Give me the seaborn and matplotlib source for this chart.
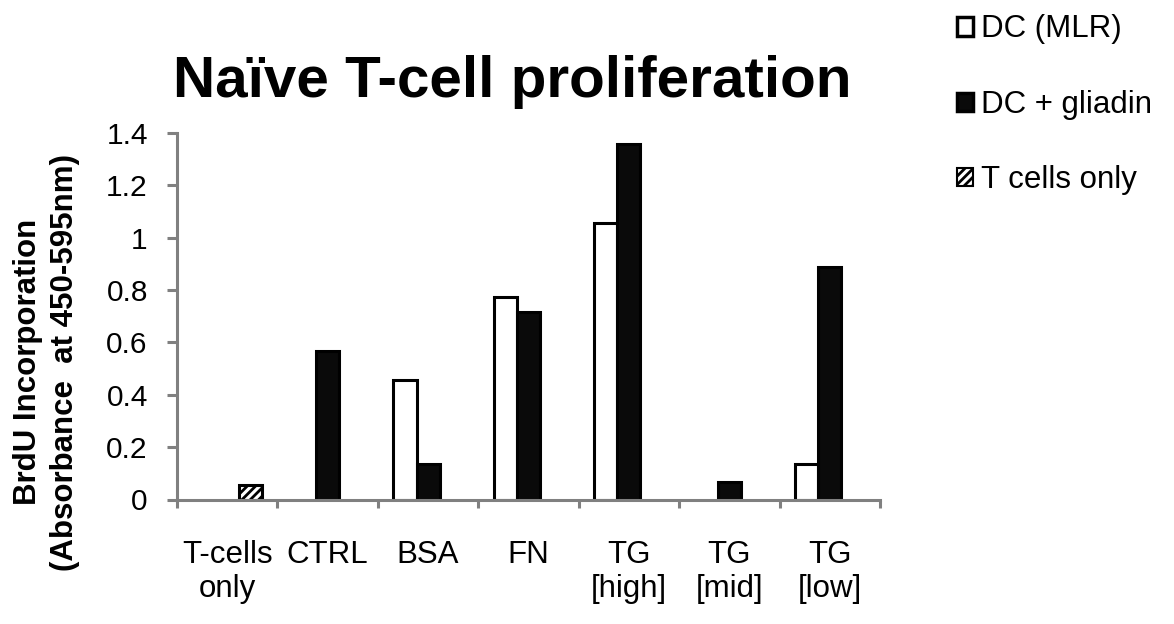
import numpy as np
import pandas as pd
import matplotlib
matplotlib.use("Agg")
import matplotlib.pyplot as plt
from matplotlib.patches import Patch
import seaborn as sns

# values
categories = ["T-cells\nonly", "CTRL", "BSA", "FN", "TG\n[high]", "TG\n[mid]", "TG\n[low]"]
series = ["DC (MLR)", "DC + gliadin", "T cells only"]
dc_mlr = [np.nan, np.nan, 0.455, 0.775, 1.057, np.nan, 0.135]
dc_gliadin = [np.nan, 0.567, 0.135, 0.716, 1.358, 0.068, 0.890]
t_cells_only = [0.055, np.nan, np.nan, np.nan, np.nan, np.nan, np.nan]
yticks = [0, 0.2, 0.4, 0.6, 0.8, 1, 1.2, 1.4]
ytick_labels = ["0", "0.2", "0.4", "0.6", "0.8", "1", "1.2", "1.4"]

df = pd.DataFrame({
    "category": categories * 3,
    "series": [series[0]] * 7 + [series[1]] * 7 + [series[2]] * 7,
    "value": dc_mlr + dc_gliadin + t_cells_only,
})

sns.set_style("white")
plt.rcParams["font.family"] = ["Liberation Sans", "DejaVu Sans"]
plt.rcParams["hatch.linewidth"] = 2.0
for key in ["text.color", "axes.labelcolor", "xtick.labelcolor", "ytick.labelcolor"]:
    plt.rcParams[key] = "black"

grey = "#808080"
fig = plt.figure(figsize=(11.74, 6.24), dpi=100)
ax = fig.add_axes([177 / 1174, 1 - 499.5 / 624, 703 / 1174, 366.5 / 624])

colors = {"DC (MLR)": "white", "DC + gliadin": "#0a0a0a", "T cells only": "white"}
sns.barplot(data=df, x="category", y="value", hue="series", order=categories,
            hue_order=series, palette=colors, errorbar=None, width=0.69, gap=0,
            edgecolor="black", linewidth=2.2, ax=ax, legend=False)

# hatch the "T cells only" bar (right-hand slot of each group)
for p in ax.patches:
    cx = p.get_x() + p.get_width() / 2
    if cx - round(cx) > 0.1:
        p.set_hatch("////")

ax.set_xlim(-0.5, 6.5)
ax.set_ylim(0, 1.4)
ax.set_yticks(yticks, ytick_labels)
ax.set_xlabel("")
ax.set_ylabel("BrdU Incorporation\n(Absorbance  at 450-595nm)", fontsize=22.5,
              fontweight="bold", linespacing=1.3)
ax.yaxis.set_label_coords(-0.138, 0.375)

for s in ["top", "right"]:
    ax.spines[s].set_visible(False)
for s in ["left", "bottom"]:
    ax.spines[s].set_color(grey)
    ax.spines[s].set_linewidth(2.2)

ax.tick_params(axis="y", length=7, width=2.2, color=grey, labelsize=21.5, pad=14,
               left=True, direction="out")
ax.tick_params(axis="x", which="major", length=0, labelsize=22.5, pad=29)
ax.set_xticks(np.arange(-0.5, 7), minor=True)
ax.tick_params(axis="x", which="minor", length=6, width=2.2, color=grey,
               bottom=True, direction="out")

fig.text(512 / 1174, 1 - 97 / 624, "Naïve T-cell proliferation", fontsize=42,
         fontweight="bold", ha="center", va="baseline")

handles = [
    Patch(facecolor="white", edgecolor="black", linewidth=2.5),
    Patch(facecolor="#0a0a0a", edgecolor="black", linewidth=2.5),
    Patch(facecolor="white", edgecolor="black", linewidth=1.5, hatch="////"),
]
fig.legend(handles, series, loc="upper left", bbox_to_anchor=(944 / 1174, 1 - 2 / 624),
           frameon=False, fontsize=22.5, handlelength=0.52, handleheight=0.52,
           handletextpad=0.25, labelspacing=1.45, borderaxespad=0)

fig.savefig("out.png", dpi=100)
